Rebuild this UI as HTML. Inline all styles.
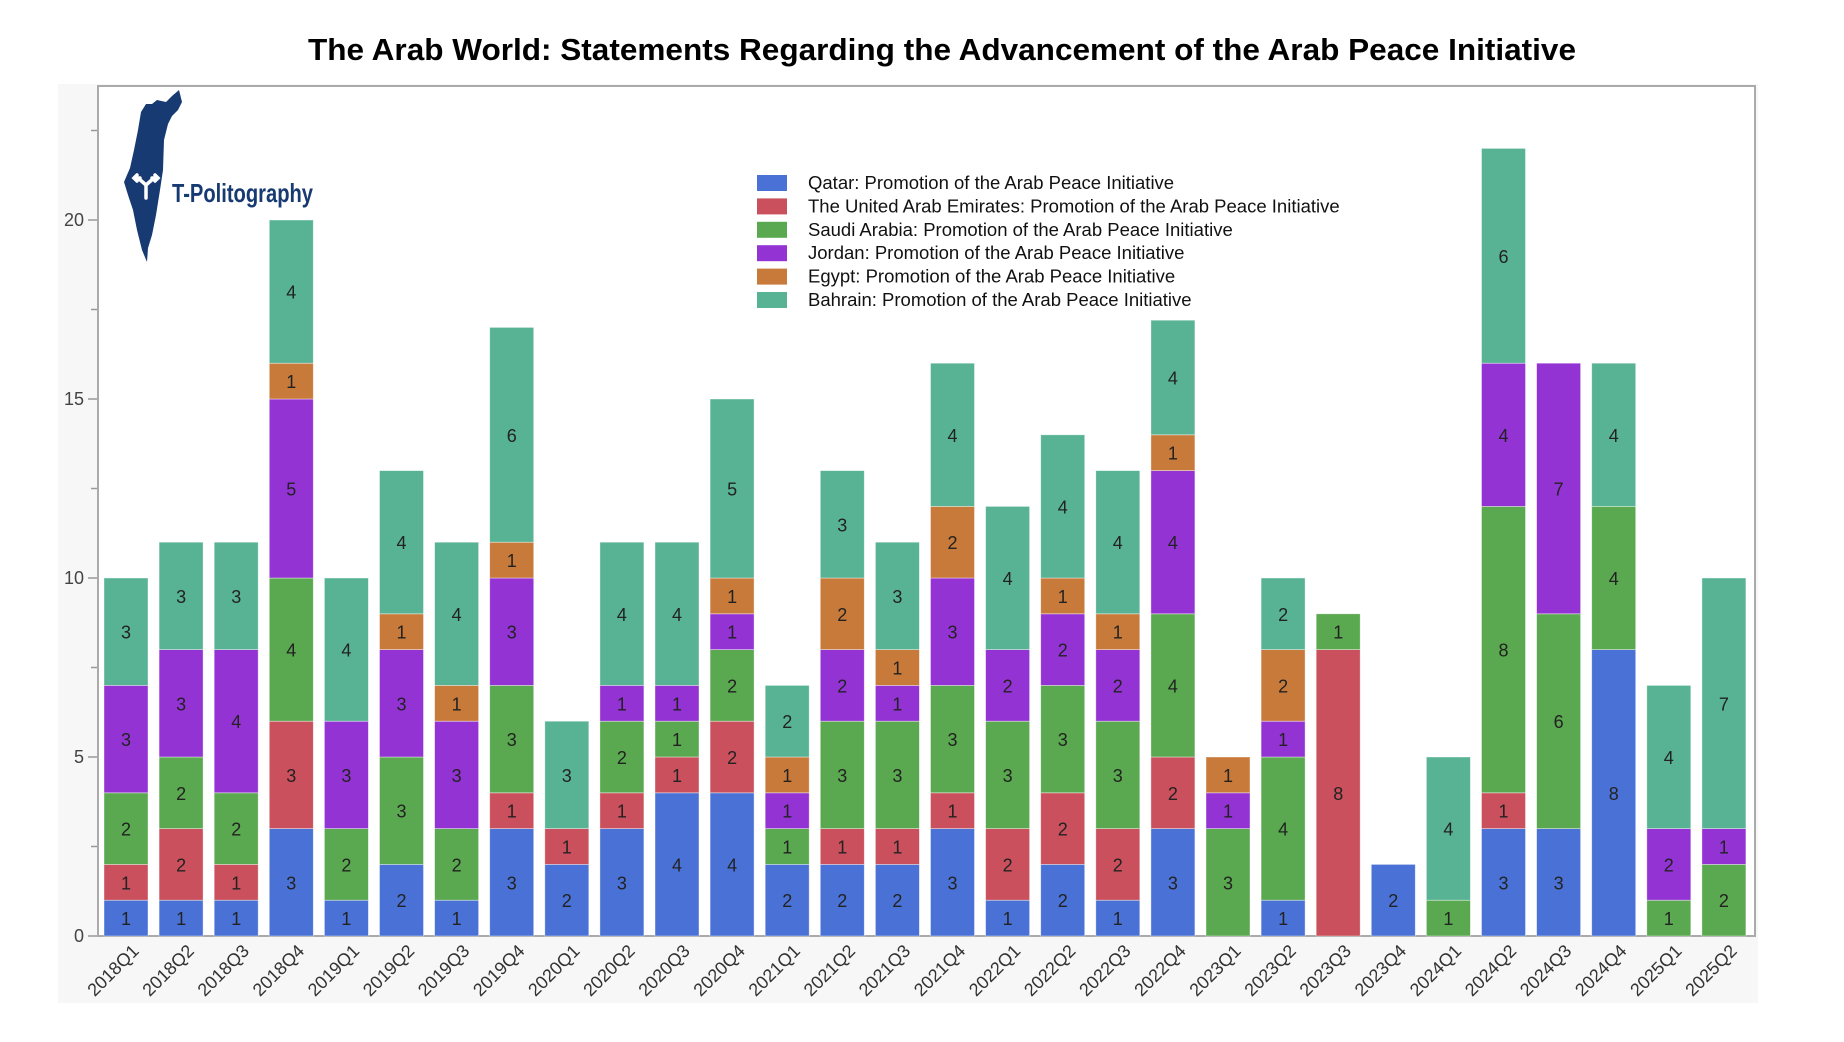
<!DOCTYPE html>
<html><head><meta charset="utf-8"><style>
html,body{margin:0;padding:0;background:#fff;}
svg{display:block;font-family:"Liberation Sans",sans-serif;}
</style></head><body>
<svg id="c" width="1844" height="1042" viewBox="0 0 1844 1042" xmlns="http://www.w3.org/2000/svg">
<rect x="0" y="0" width="1844" height="1042" fill="#fff"/>
<rect x="58" y="84" width="1700" height="919" fill="#f7f7f7"/>
<rect x="98" y="86" width="1657" height="850" fill="#fff" stroke="#aaa" stroke-width="2"/>
<text x="942" y="60" text-anchor="middle" font-size="31" font-weight="bold" fill="#000" textLength="1268" lengthAdjust="spacingAndGlyphs">The Arab World: Statements Regarding the Advancement of the Arab Peace Initiative</text>
<g id="g"></g>
<path d="M179,90 L182,102 L178,110 L172,116 L168,124 L164,140 L163,170 L160,190 L156,215 L152,235 L148,248 L147,262 L142,250 L137,230 L133,210 L128,195 L124,182 L130,168 L134,150 L138,130 L141,112 L146,104 L152,104 L157,100 L166,102 L172,96 Z" fill="#173a72"/>
<g stroke="#fff" stroke-width="3.5" fill="none" stroke-linecap="round">
<path d="M146,198 L146,185 M146,185 L138,178 M146,185 L154,178 M134,178 L140,178 M137,175 L134,178 L137,181 M158,178 L152,178 M155,175 L158,178 L155,181"/>
</g>
<text x="172" y="202" font-size="26" font-weight="bold" fill="#173a72" textLength="141" lengthAdjust="spacingAndGlyphs">T-Politography</text>
</svg>
<script>
(function(){
var d=[[1,1,2,3,0,3],[1,2,2,3,0,3],[1,1,2,4,0,3],[3,3,4,5,1,4],[1,0,2,3,0,4],[2,0,3,3,1,4],[1,0,2,3,1,4],[3,1,3,3,1,6],
[2,1,0,0,0,3],[3,1,2,1,0,4],[4,1,1,1,0,4],[4,2,2,1,1,5],[2,0,1,1,1,2],[2,1,3,2,2,3],[2,1,3,1,1,3],[3,1,3,3,2,4],
[1,2,3,2,0,4],[2,2,3,2,1,4],[1,2,3,2,1,4],[3,2,4,4,1,4],[0,0,3,1,1,0],[1,0,4,1,2,2],[0,8,1,0,0,0],[2,0,0,0,0,0],
[0,0,1,0,0,4],[3,1,8,4,0,6],[3,0,6,7,0,0],[8,0,4,0,0,4],[0,0,1,2,0,4],[0,0,2,1,0,7]];
var cols=["#4a72d6","#c9505c","#5aa84f","#9333d4","#c87a3a","#58b394"];
var names=["Qatar: Promotion of the Arab Peace Initiative","The United Arab Emirates: Promotion of the Arab Peace Initiative","Saudi Arabia: Promotion of the Arab Peace Initiative","Jordan: Promotion of the Arab Peace Initiative","Egypt: Promotion of the Arab Peace Initiative","Bahrain: Promotion of the Arab Peace Initiative"];
var y0=936,u=35.8,s="";
function Y(v){return y0-v*u;}
for(var t=0;t<=22.5;t+=2.5){var yy=Y(t);var maj=(t%5==0);s+='<line x1="'+(maj?88:91)+'" y1="'+yy+'" x2="97" y2="'+yy+'" stroke="#999" stroke-width="1.5"/>';
if(maj)s+='<text x="84" y="'+(yy+6)+'" text-anchor="end" font-size="18" fill="#444">'+t+'</text>';}
for(var i=0;i<30;i++){var x=104+i*55.1,c=0;var cx=x+22;
 for(var k=0;k<6;k++){var v=d[i][k];if(!v)continue;var tp=c+v;var ht=tp;if(i==19&&k==5)ht=17.2;
  s+='<rect x="'+x.toFixed(1)+'" y="'+Y(ht).toFixed(1)+'" width="44" height="'+((ht-c)*u).toFixed(1)+'" fill="'+cols[k]+'" stroke="#fff" stroke-opacity="0.5" stroke-width="0.8"/>';
  s+='<text x="'+cx.toFixed(1)+'" y="'+(Y((c+ht)/2)+7).toFixed(1)+'" text-anchor="middle" font-size="18" fill="#222">'+v+'</text>';c=tp;}
 var yr=2018+Math.floor(i/4),q=i%4+1;
 s+='<text transform="translate('+(cx+14).toFixed(1)+',952) rotate(-45)" text-anchor="end" font-size="18" fill="#333">'+yr+'Q'+q+'</text>';}
for(var k=0;k<6;k++){var ry=175+k*23.4;s+='<rect x="757" y="'+ry.toFixed(1)+'" width="30" height="16" fill="'+cols[k]+'"/>';
 s+='<text x="808" y="'+(ry+14).toFixed(1)+'" font-size="18.5" fill="#111">'+names[k]+'</text>';}
document.getElementById('g').innerHTML=s;
})();
</script>
</body></html>
